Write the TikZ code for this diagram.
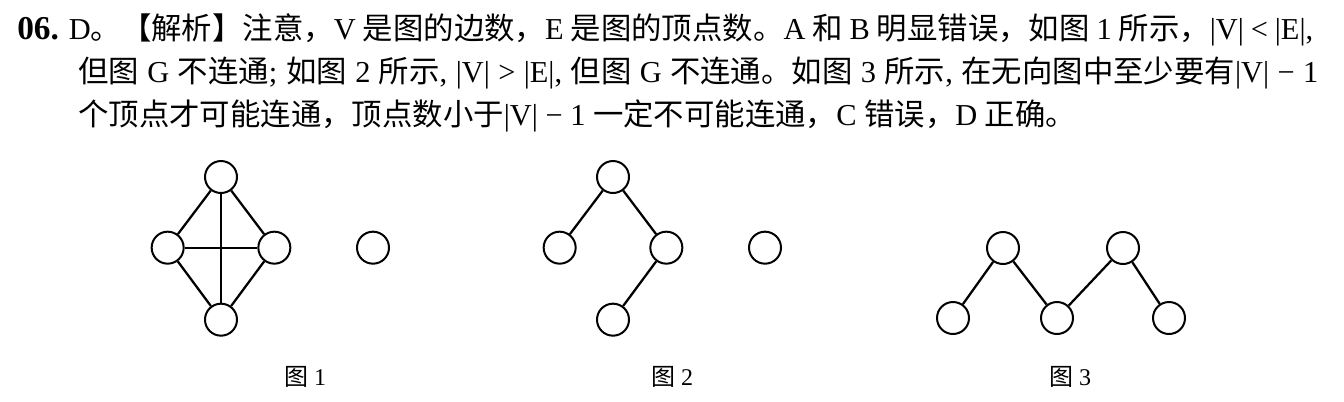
\documentclass[tikz,border=0pt]{standalone}
\usepackage{fontspec}
\setmainfont{Liberation Serif}
\newfontfamily\zh{Noto Sans CJK SC}
\usetikzlibrary{positioning}
\tikzset{vtx/.style={draw,circle,line width=1.5pt,minimum size=24pt,inner sep=0pt}}
\tikzset{link/.style={line width=1.7pt}}
\tikzset{txtline/.style={anchor=base west,inner sep=0pt,font=\fontsize{22.8pt}{27pt}\selectfont}}
\tikzset{figcap/.style={inner sep=0pt,font=\fontsize{18pt}{21pt}\selectfont}}

\begin{document}
\begin{tikzpicture}[x=0.75pt,y=-0.75pt,on grid]
  \fill[white] (0,0) rectangle (1344,401);
  \useasboundingbox (0,0) rectangle (1344,401);
  % text
  \node[txtline] (line1) at (17,39) {\makebox[972pt][s]{{\bfseries\fontsize{25pt}{27pt}\selectfont 06.} D{\zh 。【解析】注意，}V {\zh 是图的边数，}E {\zh 是图的顶点数。}A {\zh 和} B {\zh 明显错误，如图} 1 {\zh 所示，}|V| < |E|,}};
  \node[txtline] (line2) at (78,82) {\makebox[930pt][s]{{\zh 但图} G {\zh 不连通}; {\zh 如图} 2 {\zh 所示}, |V| > |E|, {\zh 但图} G {\zh 不连通。如图} 3 {\zh 所示}, {\zh 在无向图中至少要有}|V| − 1}};
  \node[txtline] (line3) at (78,125) {{\zh 个顶点才可能连通，顶点数小于}|V| − 1 {\zh 一定不可能连通，}C {\zh 错误，}D {\zh 正确。}};
  % graph 1
  \node[vtx] (t1) at (221,177) {};
  \node[vtx] (l1) [below left=53pt and 40pt of t1] {};
  \node[vtx] (r1) [below right=53pt and 40pt of t1] {};
  \node[vtx] (b1) [below=107pt of t1] {};
  \node[vtx] (s1) [right=74pt of r1] {};
  \path[link]
    (t1) edge (l1)
    (t1) edge (r1)
    (l1) edge (b1)
    (r1) edge (b1)
    (t1) edge (b1)
    (l1) edge (r1)
  ;
  \node[figcap] (c1) at (305,377) {{\zh 图} 1};
  % graph 2
  \node[vtx] (t2) at (613,177) {};
  \node[vtx] (l2) [below left=53pt and 40pt of t2] {};
  \node[vtx] (r2) [below right=53pt and 40pt of t2] {};
  \node[vtx] (b2) [below=107pt of t2] {};
  \node[vtx] (s2) [right=74pt of r2] {};
  \path[link]
    (t2) edge (l2)
    (t2) edge (r2)
    (r2) edge (b2)
  ;
  \node[figcap] (c2) at (672,377) {{\zh 图} 2};
  % graph 3
  \node[vtx] (a3) at (1003,248) {};
  \node[vtx] (p3) [below left=52.5pt and 37.5pt of a3] {};
  \node[vtx] (q3) [below right=52.5pt and 40.5pt of a3] {};
  \node[vtx] (d3) [above right=52.5pt and 49.5pt of q3] {};
  \node[vtx] (e3) [below right=52.5pt and 34.5pt of d3] {};
  \path[link]
    (p3) edge (a3)
    (a3) edge (q3)
    (q3) edge (d3)
    (d3) edge (e3)
  ;
  \node[figcap] (c3) at (1070,377) {{\zh 图} 3};
\end{tikzpicture}
\end{document}
